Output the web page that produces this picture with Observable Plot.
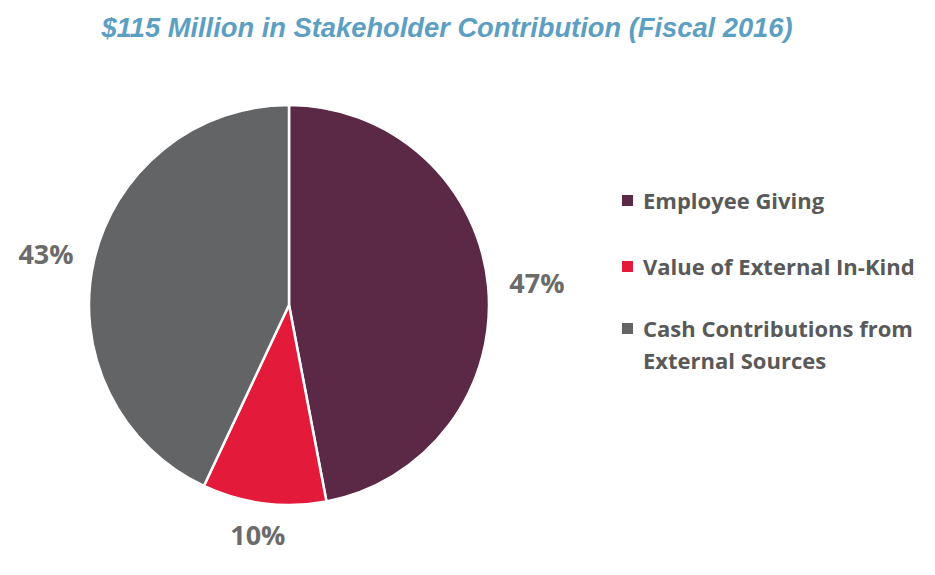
<!DOCTYPE html>
<html>
<head>
<meta charset="utf-8">
<script src="https://cdn.jsdelivr.net/npm/d3@7"></script>
<script src="https://cdn.jsdelivr.net/npm/@observablehq/plot@0.6"></script>
<style>
  body { margin: 0; background: #fff; width: 935px; height: 575px; position: relative; overflow: hidden; }
  #title { height: 55px; text-align: center; font-family: "Liberation Sans", Arial, sans-serif; font-weight: bold; font-style: italic;
           font-size: 27.3px; color: #5d9fc2; line-height: 56px; margin-left: -41px; width: 976px; }
  #legend { position: absolute; left: 622px; top: 184px; font-family: "Open Sans", Lato, sans-serif; font-weight: 700;
            font-size: 22px; color: #595959; }
  .item { display: flex; align-items: flex-start; line-height: 32px; }
  .item + .item { margin-top: 34px; }
  .item:last-child { margin-top: 30px; }
  .sw { width: 11px; height: 11px; margin-top: 11px; margin-right: 10px; flex: none; }
</style>
</head>
<body>
<div id="title">$115 Million in Stakeholder Contribution (Fiscal 2016)</div>
<div id="chart"></div>
<div id="legend"></div>
<script>
// slices, clockwise from 12 o'clock
const categories = ["Employee Giving", "Value of External In-Kind", "Cash Contributions from External Sources"];
const shares = [47, 10, 43];
const colors = ["#5b2946", "#e31a3a", "#636466"];
const legendLines = [["Employee Giving"], ["Value of External In-Kind"], ["Cash Contributions from", "External Sources"]];

const data = categories.map((c, i) => ({category: c, share: shares[i]}));

// pie drawn with d3.pie/d3.arc inside a Plot render function, filled via Plot's color scale
function pieMark(index, scales, values, dims) {
  const cx = 289, cy = 250, r = 200;
  const labelR = 221, halfW = 28, halfH = 11; // label box sits just outside the rim
  const arcs = d3.pie().sort(null).value(d => d.share)(data);
  const arc = d3.arc().innerRadius(0).outerRadius(r);
  const g = d3.create("svg:g").attr("transform", `translate(${cx},${cy})`);
  g.selectAll("path").data(arcs).join("path")
    .attr("d", arc)
    .attr("fill", d => scales.color(d.data.category))
    .attr("stroke", "#fff")
    .attr("stroke-width", 2.5)
    .attr("stroke-linejoin", "round");
  g.selectAll("text").data(arcs).join("text")
    .attr("transform", d => {
      const a = (d.startAngle + d.endAngle) / 2;
      const ux = Math.sin(a), uy = -Math.cos(a);
      return `translate(${ux * labelR + ux * halfW},${uy * labelR + uy * halfH})`;
    })
    .attr("text-anchor", "middle")
    .attr("dy", "0.36em")
    .attr("font-family", "'Open Sans', Lato, sans-serif")
    .attr("font-weight", 700)
    .attr("font-size", 27)
    .attr("fill", "#6b6b6b")
    .text(d => d.data.share + "%");
  return g.node();
}

const chart = Plot.plot({
  width: 935,
  height: 520,
  margin: 0,
  x: {axis: null},
  y: {axis: null},
  color: {domain: categories, range: colors},
  marks: [pieMark]
});
document.getElementById("chart").append(chart);

const legend = d3.select("#legend");
categories.forEach((c, i) => {
  const it = legend.append("div").attr("class", "item");
  it.append("div").attr("class", "sw").style("background", colors[i]);
  it.append("div").html(legendLines[i].join("<br>"));
});
</script>
</body>
</html>
